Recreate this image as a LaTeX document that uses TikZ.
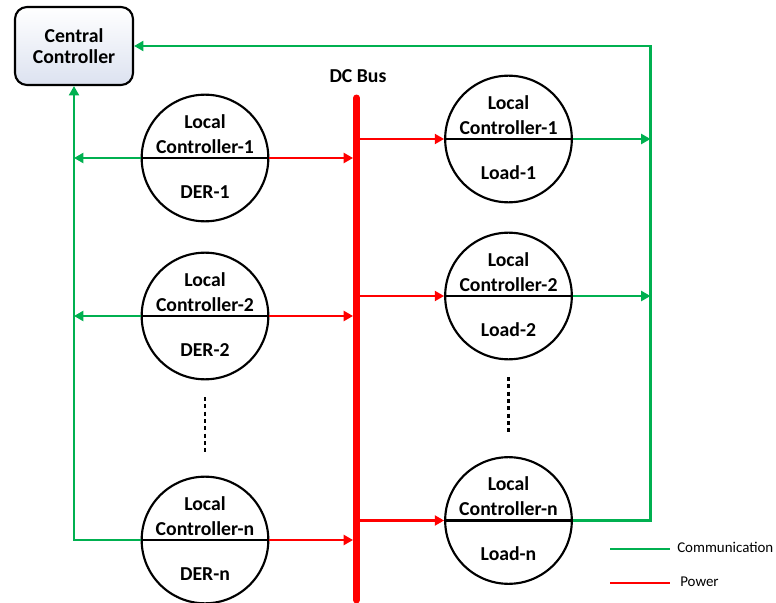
\documentclass[tikz,border=0pt]{standalone}
\usepackage{fontspec}
\setmainfont{Carlito}
\usetikzlibrary{arrows.meta,calc}
\definecolor{commgreen}{RGB}{0,176,80}
\definecolor{powred}{RGB}{255,0,0}
\definecolor{boxlow}{RGB}{220,226,240}
\begin{document}
\begin{tikzpicture}[x=0.75pt,y=-0.75pt,
  unit/.style={circle,draw=black,line width=1.6pt,minimum size=95pt,inner sep=0pt},
  lbl/.style={anchor=base,inner sep=0pt,font=\fontsize{14.8}{17}\selectfont\bfseries},
  ctrlbox/.style={draw=black,line width=1.6pt,rounded corners=9pt,minimum width=88.5pt,
    minimum height=58.5pt,top color=white,bottom color=boxlow,align=center,
    font=\fontsize{14.8}{15.75}\selectfont\bfseries},
  comm/.style={draw=commgreen,line width=1.6pt},
  pow/.style={draw=powred,line width=1.6pt},
  tip/.style={-{Triangle[length=7pt,width=7.5pt]}},
  legtxt/.style={anchor=west,inner sep=0pt,font=\fontsize{11.2}{13}\selectfont}
]
\useasboundingbox (0,0) rectangle (776,603);

% central controller
\node[ctrlbox] (cc) at (74,46) {Central\\Controller};

% DC bus
\coordinate (busT) at (356.5,98);
\coordinate (busB) at (356.5,600);
\node[lbl] (bus) at (358,82) {DC Bus};

% communication trunk lines
\coordinate (cl) at (74,540);
\coordinate (cr) at (650.5,46);

% local units: DER side and load side
\foreach \nm/\x/\y/\k/\bot in {d1/205/158/1/DER-1, d2/205/316/2/DER-2, dn/205/540/n/DER-n,
                               l1/508.5/139/1/Load-1, l2/508.5/296/2/Load-2, ln/508.5/520.5/n/Load-n}{
  \node[unit] (\nm) at (\x,\y) {};
  \draw[line width=1.6pt] (\nm.west) -- (\nm.east);
  \node[lbl] at ($(\nm.center)+(0,-30)$) {Local};
  \node[lbl] at ($(\nm.center)+(0,-5)$) {Controller-\k};
  \node[lbl] at ($(\nm.center)+(0,40)$) {\bot};
}

% power flows
\foreach \nm in {d1,d2,dn}
  \draw[pow,tip] (\nm.east) -- ([xshift=-2.6pt]\nm.east -| busT);
\foreach \nm in {l1,l2,ln}
  \draw[pow,tip] (\nm.west -| busT) -- (\nm.west);

% communication links
\draw[comm,tip] (d1.west) -- (d1.west -| cl);
\draw[comm,tip] (d2.west) -- (d2.west -| cl);
\draw[comm,tip] (dn.west) -- (dn.west -| cl) -- (cc.south);
\draw[comm,tip] (l1.east) -- (l1.east -| cr);
\draw[comm,tip] (l2.east) -- (l2.east -| cr);
\draw[comm,tip] (ln.east) -- (ln.east -| cr) -- (cr) -- (cc.east);

% bus bar
\draw[powred,line width=5.25pt,line cap=round] (busT) -- (busB);

% ellipsis dots
\draw[line width=1.7pt,dash pattern=on 3pt off 2.5pt] (205,397) -- (205,454);
\draw[line width=1.7pt,dash pattern=on 3pt off 2.5pt] (508.5,377) -- (508.5,434);

% legend
\coordinate (lgA) at (610,549);
\coordinate (lgB) at (670,549);
\coordinate (lgC) at (610,583);
\coordinate (lgD) at (670,583);
\draw[comm] (lgA) -- (lgB);
\draw[pow] (lgC) -- (lgD);
\node[legtxt] at (677,547) {Communication};
\node[legtxt] at (680,582) {Power};
\end{tikzpicture}
\end{document}
